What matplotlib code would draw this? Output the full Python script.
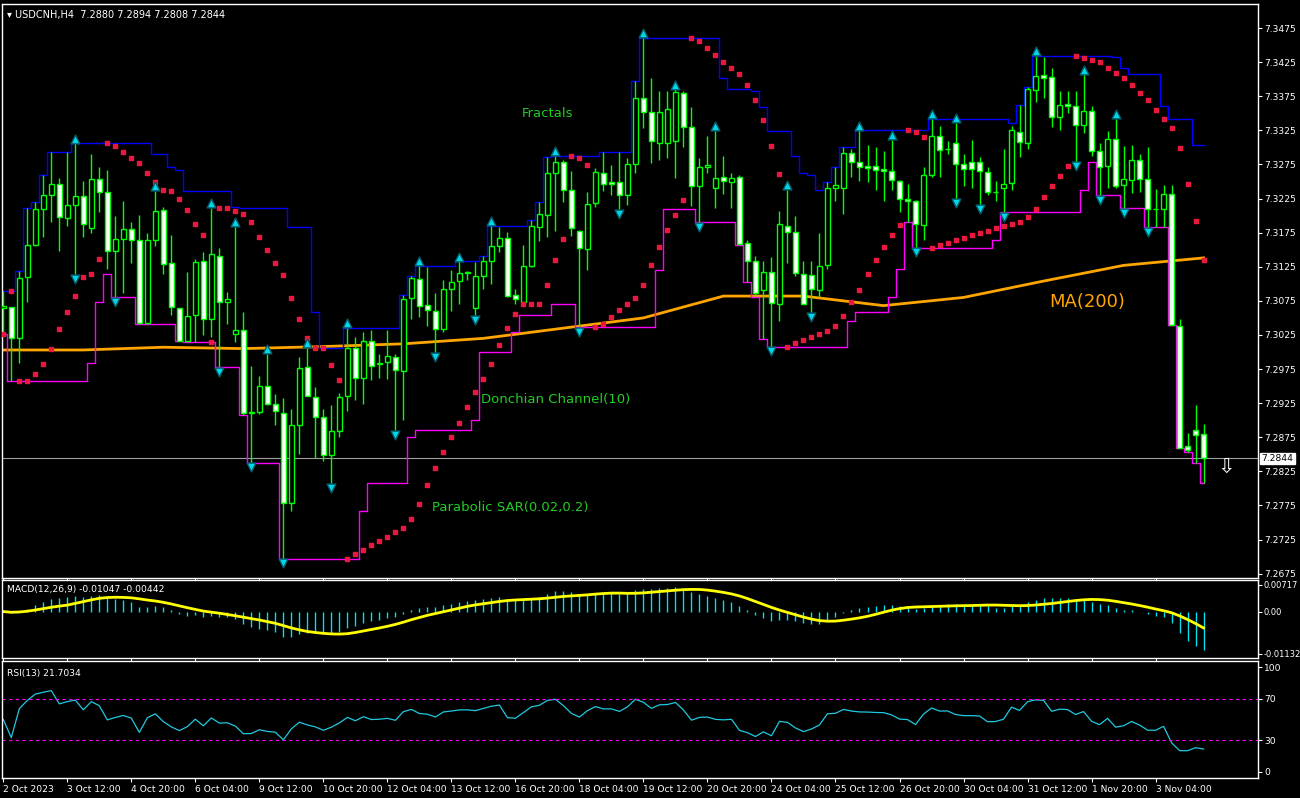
import matplotlib
matplotlib.use("Agg")
import matplotlib.pyplot as plt
import numpy as np
import pandas as pd

# USDCNH H4 candles
opens = [7.3064, 7.3066, 7.3021, 7.3110, 7.3157, 7.3210, 7.3230, 7.3247, 7.3196, 7.3216,
         7.3228, 7.3182, 7.3254, 7.3235, 7.3148, 7.3165, 7.3181, 7.3164, 7.3042, 7.3164,
         7.3208, 7.3130, 7.3065, 7.3016, 7.3054, 7.3133, 7.3048, 7.3141, 7.3074, 7.3026,
         7.3033, 7.2910, 7.2912, 7.2950, 7.2924, 7.2911, 7.2778, 7.2893, 7.2978, 7.2934,
         7.2904, 7.2849, 7.2884, 7.2935, 7.3006, 7.2962, 7.3016, 7.2983, 7.2985, 7.2992,
         7.2972, 7.3079, 7.3107, 7.3069, 7.3060, 7.3034, 7.3092, 7.3104, 7.3116, 7.3064,
         7.3111, 7.3133, 7.3155, 7.3167, 7.3083, 7.3073, 7.3126, 7.3184, 7.3201, 7.3263,
         7.3278, 7.3238, 7.3178, 7.3151, 7.3218, 7.3263, 7.3249, 7.3249, 7.3230, 7.3276,
         7.3373, 7.3352, 7.3307, 7.3307, 7.3309, 7.3379, 7.3330, 7.3244, 7.3271, 7.3240,
         7.3256, 7.3249, 7.3256, 7.3160, 7.3133, 7.3091, 7.3118, 7.3071, 7.3185, 7.3176,
         7.3114, 7.3113, 7.3091, 7.3127, 7.3240, 7.3241, 7.3292, 7.3279, 7.3273, 7.3273,
         7.3268, 7.3265, 7.3251, 7.3224, 7.3221, 7.3186, 7.3260, 7.3317, 7.3297, 7.3306,
         7.3276, 7.3278, 7.3278, 7.3264, 7.3234, 7.3241, 7.3248, 7.3323, 7.3306, 7.3384,
         7.3406, 7.3403, 7.3345, 7.3363, 7.3361, 7.3333, 7.3353, 7.3294, 7.3272, 7.3313,
         7.3245, 7.3252, 7.3281, 7.3253, 7.3209, 7.3209, 7.3232, 7.3038, 7.2862, 7.2885,
         7.2880]
highs = [7.3090, 7.3066, 7.3119, 7.3211, 7.3220, 7.3260, 7.3293, 7.3255, 7.3293, 7.3306,
         7.3251, 7.3290, 7.3271, 7.3267, 7.3199, 7.3222, 7.3191, 7.3201, 7.3174, 7.3236,
         7.3213, 7.3172, 7.3065, 7.3118, 7.3137, 7.3146, 7.3211, 7.3152, 7.3088, 7.3184,
         7.3058, 7.2980, 7.2965, 7.2997, 7.2938, 7.2933, 7.2916, 7.2992, 7.3006, 7.2949,
         7.2916, 7.2922, 7.2940, 7.3035, 7.3022, 7.3030, 7.3033, 7.2997, 7.3033, 7.2997,
         7.3084, 7.3111, 7.3126, 7.3125, 7.3087, 7.3106, 7.3120, 7.3133, 7.3119, 7.3132,
         7.3141, 7.3185, 7.3183, 7.3176, 7.3092, 7.3157, 7.3193, 7.3220, 7.3286, 7.3287,
         7.3282, 7.3265, 7.3179, 7.3234, 7.3270, 7.3293, 7.3274, 7.3293, 7.3285, 7.3398,
         7.3461, 7.3401, 7.3382, 7.3383, 7.3385, 7.3383, 7.3359, 7.3285, 7.3317, 7.3324,
         7.3288, 7.3263, 7.3259, 7.3164, 7.3141, 7.3134, 7.3140, 7.3207, 7.3238, 7.3200,
         7.3134, 7.3134, 7.3175, 7.3249, 7.3271, 7.3301, 7.3298, 7.3325, 7.3304, 7.3301,
         7.3294, 7.3311, 7.3252, 7.3247, 7.3223, 7.3271, 7.3342, 7.3331, 7.3310, 7.3336,
         7.3290, 7.3311, 7.3286, 7.3271, 7.3251, 7.3297, 7.3332, 7.3362, 7.3388, 7.3434,
         7.3433, 7.3416, 7.3382, 7.3383, 7.3383, 7.3407, 7.3361, 7.3307, 7.3324, 7.3342,
         7.3302, 7.3304, 7.3290, 7.3301, 7.3239, 7.3245, 7.3245, 7.3048, 7.2881, 7.2922,
         7.2894]
lows = [7.3027, 7.2957, 7.2984, 7.3073, 7.3155, 7.3168, 7.3190, 7.3148, 7.3185, 7.3114,
        7.3168, 7.3174, 7.3205, 7.3122, 7.3081, 7.3087, 7.3130, 7.3041, 7.3041, 7.3155,
        7.3114, 7.3054, 7.3016, 7.3014, 7.3014, 7.3025, 7.3022, 7.2978, 7.3041, 7.3014,
        7.2908, 7.2838, 7.2909, 7.2923, 7.2893, 7.2697, 7.2767, 7.2851, 7.2935, 7.2844,
        7.2840, 7.2808, 7.2875, 7.2913, 7.2930, 7.2924, 7.2959, 7.2962, 7.2961, 7.2886,
        7.2900, 7.3049, 7.3052, 7.3038, 7.3000, 7.3030, 7.3060, 7.3071, 7.3106, 7.3054,
        7.3092, 7.3099, 7.3146, 7.3081, 7.3071, 7.3071, 7.3125, 7.3163, 7.3168, 7.3178,
        7.3220, 7.3170, 7.3037, 7.3120, 7.3213, 7.3236, 7.3230, 7.3210, 7.3215, 7.3263,
        7.3328, 7.3277, 7.3282, 7.3284, 7.3255, 7.3301, 7.3214, 7.3190, 7.3262, 7.3211,
        7.3232, 7.3211, 7.3157, 7.3103, 7.3081, 7.3019, 7.3008, 7.3046, 7.3130, 7.3111,
        7.3071, 7.3059, 7.3081, 7.3122, 7.3221, 7.3203, 7.3256, 7.3250, 7.3249, 7.3237,
        7.3221, 7.3238, 7.3205, 7.3190, 7.3153, 7.3164, 7.3256, 7.3256, 7.3290, 7.3225,
        7.3243, 7.3241, 7.3216, 7.3230, 7.3222, 7.3205, 7.3238, 7.3286, 7.3297, 7.3366,
        7.3373, 7.3330, 7.3325, 7.3351, 7.3279, 7.3321, 7.3287, 7.3230, 7.3241, 7.3241,
        7.3211, 7.3233, 7.3234, 7.3183, 7.3184, 7.3184, 7.3040, 7.2859, 7.2853, 7.2838,
        7.2808]
closes = [7.3068, 7.3021, 7.3108, 7.3157, 7.3210, 7.3230, 7.3247, 7.3198, 7.3216, 7.3228,
          7.3187, 7.3254, 7.3234, 7.3148, 7.3166, 7.3181, 7.3164, 7.3042, 7.3164, 7.3207,
          7.3129, 7.3066, 7.3016, 7.3053, 7.3132, 7.3048, 7.3143, 7.3074, 7.3078, 7.3033,
          7.2910, 7.2912, 7.2950, 7.2924, 7.2913, 7.2779, 7.2893, 7.2977, 7.2935, 7.2904,
          7.2849, 7.2884, 7.2934, 7.3006, 7.2962, 7.3016, 7.2980, 7.2984, 7.2994, 7.2973,
          7.3077, 7.3108, 7.3068, 7.3061, 7.3034, 7.3092, 7.3103, 7.3116, 7.3117, 7.3111,
          7.3133, 7.3156, 7.3167, 7.3082, 7.3077, 7.3126, 7.3185, 7.3202, 7.3263, 7.3278,
          7.3238, 7.3182, 7.3152, 7.3217, 7.3264, 7.3247, 7.3247, 7.3230, 7.3275, 7.3373,
          7.3352, 7.3309, 7.3352, 7.3356, 7.3381, 7.3330, 7.3244, 7.3271, 7.3274, 7.3255,
          7.3251, 7.3255, 7.3158, 7.3133, 7.3087, 7.3118, 7.3072, 7.3187, 7.3176, 7.3116,
          7.3071, 7.3092, 7.3126, 7.3240, 7.3245, 7.3292, 7.3278, 7.3271, 7.3270, 7.3267,
          7.3266, 7.3252, 7.3224, 7.3221, 7.3187, 7.3260, 7.3316, 7.3296, 7.3297, 7.3275,
          7.3268, 7.3268, 7.3266, 7.3234, 7.3235, 7.3247, 7.3325, 7.3308, 7.3385, 7.3404,
          7.3402, 7.3345, 7.3362, 7.3360, 7.3333, 7.3354, 7.3295, 7.3271, 7.3312, 7.3244,
          7.3253, 7.3281, 7.3254, 7.3210, 7.3209, 7.3232, 7.3040, 7.2860, 7.2856, 7.2878,
          7.2844]

# MA(200) sampled every 10 bars
ma_idx = [0, 10, 20, 30, 40, 50, 60, 70, 80, 90, 100, 110, 120, 130, 140, 150]
ma_vals = [7.3003, 7.3003, 7.3007, 7.3005, 7.3008, 7.3012, 7.3020, 7.3035,
           7.3050, 7.3082, 7.3082, 7.3068, 7.3080, 7.3104, 7.3127, 7.3138]

date_labels = ["2 Oct 2023", "3 Oct 12:00", "4 Oct 20:00", "6 Oct 04:00", "9 Oct 12:00",
               "10 Oct 20:00", "12 Oct 04:00", "13 Oct 12:00", "16 Oct 20:00", "18 Oct 04:00",
               "19 Oct 12:00", "20 Oct 20:00", "24 Oct 04:00", "25 Oct 12:00", "26 Oct 20:00",
               "30 Oct 04:00", "31 Oct 12:00", "1 Nov 20:00", "3 Nov 04:00"]
date_step = 8

O = np.array(opens); H = np.array(highs); L = np.array(lows); C = np.array(closes)
n = len(C)
x = np.arange(n)

# indicators
don_hi = pd.Series(H).rolling(10, min_periods=1).max().values
don_lo = pd.Series(L).rolling(10, min_periods=1).min().values


def psar(h, l, step=0.02, mx=0.2):
    out = np.zeros(len(h))
    up = True
    af = step
    ep = h[0]
    sar = l[0]
    out[0] = sar
    for i in range(1, len(h)):
        sar = sar + af * (ep - sar)
        if up:
            sar = min(sar, l[i - 1], l[max(i - 2, 0)])
            if l[i] < sar:
                up, sar, ep, af = False, ep, l[i], step
            elif h[i] > ep:
                ep, af = h[i], min(af + step, mx)
        else:
            sar = max(sar, h[i - 1], h[max(i - 2, 0)])
            if h[i] > sar:
                up, sar, ep, af = True, ep, h[i], step
            elif l[i] < ep:
                ep, af = l[i], min(af + step, mx)
        out[i] = sar
    return out


def rsi_wilder(c, period=13, seed=0.0004):
    ag, al = seed, seed
    out = []
    for i in range(len(c)):
        ch = c[i] - c[i - 1] if i else 0.0
        ag = (ag * (period - 1) + max(ch, 0)) / period
        al = (al * (period - 1) + max(-ch, 0)) / period
        out.append(100 - 100 / (1 + ag / al))
    return np.array(out)


sar = psar(H, L)
cs = pd.Series(C)
macd = (cs.ewm(span=12, adjust=False).mean() - cs.ewm(span=26, adjust=False).mean()).values
signal = pd.Series(macd).rolling(9, min_periods=1).mean().values
rsi = rsi_wilder(C)

up_fr = [i for i in range(2, n - 2) if H[i] > max(H[i - 2], H[i - 1], H[i + 1], H[i + 2])]
dn_fr = [i for i in range(2, n - 2) if L[i] < min(L[i - 2], L[i - 1], L[i + 1], L[i + 2])]

fig = plt.figure(figsize=(13, 7.98), dpi=100, facecolor="black")
W = 1256 / 1300
ax = fig.add_axes([2 / 1300, 1 - 578 / 798, W, 574 / 798])
ax2 = fig.add_axes([2 / 1300, 1 - 658 / 798, W, 78 / 798], sharex=ax)
ax3 = fig.add_axes([2 / 1300, 1 - 778 / 798, W, 117 / 798], sharex=ax)

for a in (ax, ax2, ax3):
    a.set_facecolor("black")
    for s in a.spines.values():
        s.set_color("white")
        s.set_linewidth(1)
    a.yaxis.tick_right()
    a.tick_params(axis="y", colors="white", labelsize=6.6, length=3, pad=1.5, direction="out")
    a.tick_params(axis="x", colors="white", labelsize=6.6, length=3, pad=2)

green = "#00ff00"
bw = 0.62
for i in range(n):
    ax.vlines(x[i], L[i], H[i], color=green, lw=1, zorder=3)
    bull = C[i] >= O[i]
    lo, hi = min(O[i], C[i]), max(O[i], C[i])
    ax.add_patch(plt.Rectangle((x[i] - bw / 2, lo), bw, max(hi - lo, 0.00005),
                               facecolor="black" if bull else "white",
                               edgecolor=green, lw=1, zorder=4))

ax.plot(ma_idx, ma_vals, color="#ffa500", lw=2, zorder=2)
ax.step(x, don_hi, where="mid", color="#0000ff", lw=1, zorder=2)
ax.step(x, don_lo, where="mid", color="#ff00ff", lw=1, zorder=2)
ax.scatter(x, sar, s=5, color="#e8193c", marker="s", zorder=5)
ax.scatter([x[i] for i in up_fr], [H[i] + 0.0007 for i in up_fr], marker="^", s=40,
           color="#00d8e8", edgecolor="#006070", zorder=6)
ax.scatter([x[i] for i in dn_fr], [L[i] - 0.0007 for i in dn_fr], marker="v", s=40,
           color="#00d8e8", edgecolor="#006070", zorder=6)

last = C[-1]
ax.axhline(last, color="#a0a0a0", lw=0.8, zorder=1)
ax.text(n + 1.8, last + 0.0003, "\u21E9", color="white", fontsize=15, ha="center", va="top")

ax.set_xlim(-0.16, 156.8)
ax.set_ylim(7.26687, 7.35102)
ticks = np.arange(7.2675, 7.3476, 0.005)
ax.set_yticks(ticks)
ax.set_yticklabels([f"{t:.4f}" for t in ticks])
ax.text(1.003, (last - 7.26687) / (7.35102 - 7.26687), f"{last:.4f}", transform=ax.transAxes,
        fontsize=6.6, color="black", va="center", ha="left",
        bbox=dict(boxstyle="square,pad=0.15", fc="white", ec="white"))
ax.text(0.004, 0.99, "\u25BE USDCNH,H4  7.2880 7.2894 7.2808 7.2844", transform=ax.transAxes,
        color="white", fontsize=7, va="top")
ax.text(68, 7.3345, "Fractals", color="#22cc22", fontsize=9.5, ha="center")
ax.text(69, 7.2925, "Donchian Channel(10)", color="#22cc22", fontsize=9.5, ha="center")
ax.text(63.3, 7.2767, "Parabolic SAR(0.02,0.2)", color="#22cc22", fontsize=9.5, ha="center")
ax.text(135.5, 7.3073, "MA(200)", color="#ffa500", fontsize=13, ha="center", va="center")
plt.setp(ax.get_xticklabels(), visible=False)

ax2.vlines(x, 0, macd, color="#00e0ee", lw=1)
ax2.plot(x, signal, color="#ffff00", lw=2)
ax2.set_ylim(-0.0125, 0.0085)
ax2.set_yticks([0.00717, 0.0, -0.01132])
ax2.set_yticklabels(["0.00717", "0.00", "-0.01132"])
ax2.tick_params(axis="y", labelsize=6.0, pad=1)
ax2.text(0.004, 0.93, f"MACD(12,26,9) {macd[-1]:.5f} {signal[-1]:.5f}", transform=ax2.transAxes,
         color="white", fontsize=6.6, va="top")
plt.setp(ax2.get_xticklabels(), visible=False)

ax3.plot(x, rsi, color="#20c8e0", lw=0.9)
for lv in (70, 30):
    ax3.axhline(lv, color="#ff00ff", lw=0.8, ls=(0, (3, 3)))
ax3.set_ylim(-6, 106)
ax3.set_yticks([100, 70, 30, 0])
ax3.text(0.004, 0.93, f"RSI(13) {rsi[-1]:.4f}", transform=ax3.transAxes,
         color="white", fontsize=6.6, va="top")
ax3.set_xticks(np.arange(len(date_labels)) * date_step)
ax3.set_xticklabels(date_labels, ha="left")

fig.savefig("out.png", dpi=100, facecolor="black")
